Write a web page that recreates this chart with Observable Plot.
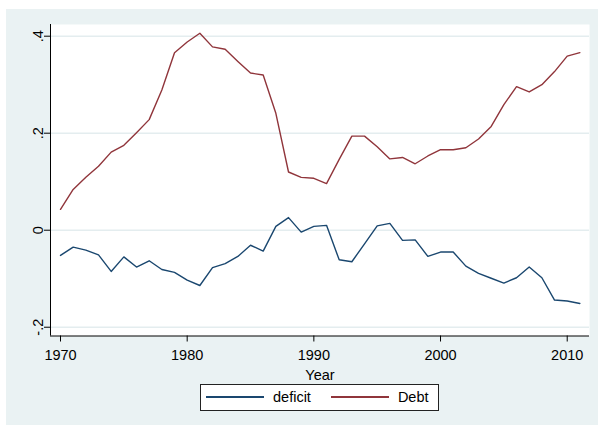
<!DOCTYPE html>
<html>
<head>
<meta charset="utf-8">
<script src="https://cdn.jsdelivr.net/npm/d3@7"></script>
<script src="https://cdn.jsdelivr.net/npm/@observablehq/plot@0.6"></script>
<style>
  html, body { margin: 0; padding: 0; background: #ffffff; }
  #wrap { position: absolute; left: 6px; top: 9px; width: 592px; height: 416px; background: #eaf2f3; font-family: "Liberation Sans", Arial, sans-serif; }
  #chart { position: absolute; left: 0; top: 0; }
  #legend { position: absolute; left: 194px; top: 374.5px; width: 237px; height: 25px; background: #ffffff; border: 1px solid #222; display: flex; align-items: center; font-size: 14.5px; color: #000; }
  .sw { display: inline-block; width: 58px; height: 1.5px; }
</style>
</head>
<body>
<div id="wrap">
  <div id="chart"></div>
  <div id="legend"></div>
</div>
<script>
const years = d3.range(1970, 2012);
const deficit = [-0.052,-0.035,-0.041,-0.051,-0.085,-0.055,-0.076,-0.063,-0.081,-0.087,-0.103,-0.114,
  -0.077,-0.069,-0.054,-0.031,-0.043,0.008,0.026,-0.004,0.008,0.010,
  -0.061,-0.065,-0.028,0.009,0.014,-0.021,-0.020,-0.054,-0.045,-0.045,
  -0.074,-0.089,-0.099,-0.109,-0.098,-0.076,-0.098,-0.144,-0.146,-0.151];
const debt = [0.043,0.084,0.109,0.132,0.161,0.175,0.201,0.228,0.289,0.366,0.388,0.406,
  0.378,0.373,0.348,0.324,0.320,0.241,0.120,0.109,0.107,0.096,
  0.146,0.194,0.194,0.172,0.147,0.150,0.137,0.153,0.166,0.166,
  0.170,0.188,0.214,0.259,0.296,0.285,0.300,0.327,0.359,0.366];
const seriesNames = ["deficit", "Debt"];
const seriesColors = ["#1a476f", "#90353b"];
const xTicks = [1970, 1980, 1990, 2000, 2010];
const yTicks = [-0.2, 0, 0.2, 0.4];
const yTickLabels = ["-.2", "0", ".2", ".4"];
const xTitle = "Year";

const xDomain = [1969.21, 2011.76];
const yDomain = [-0.2181, 0.4241];

const rows = [];
years.forEach((yr, i) => {
  rows.push({year: yr, value: deficit[i], series: seriesNames[0]});
  rows.push({year: yr, value: debt[i], series: seriesNames[1]});
});

const chart = Plot.plot({
  width: 592,
  height: 372,
  marginLeft: 44,
  marginRight: 9,
  marginTop: 15,
  marginBottom: 45.5,
  style: "background: transparent; font-family: 'Liberation Sans', Arial, sans-serif; font-size: 14.5px; color: #000; overflow: visible;",
  x: {domain: xDomain},
  y: {domain: yDomain},
  color: {domain: seriesNames, range: seriesColors},
  marks: [
    Plot.frame({fill: "#ffffff", stroke: null}),
    Plot.gridY(yTicks, {stroke: "#e4edef", strokeOpacity: 1, strokeWidth: 1.5}),
    Plot.line(rows, {x: "year", y: "value", z: "series", stroke: "series", strokeWidth: 1.4}),
    Plot.ruleX([xDomain[0]], {stroke: "#000", strokeWidth: 1}),
    Plot.ruleY([yDomain[0]], {stroke: "#000", strokeWidth: 1}),
    Plot.axisX(xTicks, {tickSize: 6, tickPadding: 8, tickFormat: d => String(d), label: null, stroke: "#000", fill: "#000", fontSize: 14.5}),
    Plot.axisY(yTicks, {tickSize: 6, tickPadding: 2, tickRotate: -90, tickFormat: d => yTickLabels[yTicks.indexOf(d)], label: null, stroke: "#000", fill: "#000", fontSize: 14.5}),
    Plot.text([xTitle], {frameAnchor: "bottom", dy: 33.5, lineAnchor: "top", fill: "#000", fontSize: 14.5})
  ]
});
document.getElementById("chart").appendChild(chart);

const legend = document.getElementById("legend");
legend.innerHTML =
  `<span style="width:5px"></span>` +
  `<span class="sw" style="background:${seriesColors[0]}"></span>` +
  `<span style="margin-left:9px">${seriesNames[0]}</span>` +
  `<span class="sw" style="margin-left:20px;background:${seriesColors[1]}"></span>` +
  `<span style="margin-left:9px">${seriesNames[1]}</span>`;
</script>
</body>
</html>
